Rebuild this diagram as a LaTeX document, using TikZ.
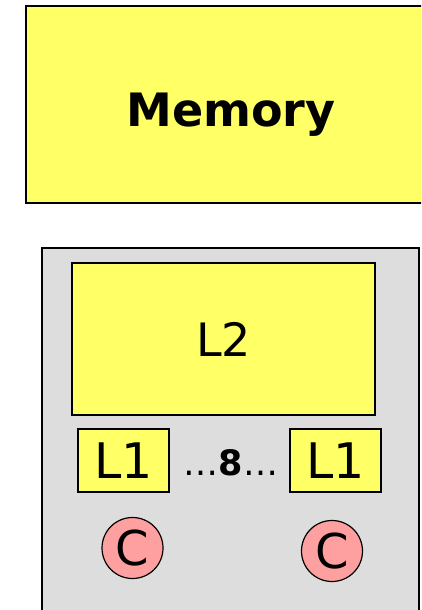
\documentclass[tikz,border=0pt]{standalone}
\usepackage{fontspec}
\setmainfont{DejaVu Sans}
\definecolor{memyellow}{HTML}{FFFF66}
\definecolor{chipgray}{HTML}{DDDDDD}
\definecolor{corepink}{HTML}{FFA0A0}
\begin{document}
\begin{tikzpicture}[x=1pt,y=-1pt,
  box/.style={draw=black,line width=1.2pt,inner sep=0pt},
  cache/.style={box,fill=memyellow},
  core/.style={circle,draw=black,line width=1.2pt,fill=corepink,minimum size=61pt,inner sep=0pt,font=\fontsize{48}{48}\selectfont},
]
\useasboundingbox (0,0) rectangle (421,610);
\begin{scope}
\clip (0,0) rectangle (421,610);
\draw[box,fill=memyellow] (26,6) rectangle (436,203);
\node[font=\bfseries\fontsize{46}{46}\selectfont] (mem) at (231,115) {Memory};
\draw[box,fill=chipgray] (42,248) rectangle (419,620);
\end{scope}
\node[cache,minimum width=303pt,minimum height=152pt,font=\fontsize{46}{46}\selectfont] (l2) at (223.5,339) {L2};
\node[cache,minimum width=91pt,minimum height=63pt,font=\fontsize{49}{49}\selectfont] (l1a) at (123.5,460.5) {L1};
\node[cache,minimum width=91pt,minimum height=63pt,font=\fontsize{49}{49}\selectfont] (l1b) at (335.5,460.5) {L1};
\node[font=\fontsize{35}{35}\selectfont,inner sep=0pt] (dots) at (231,463) {…\textbf{8}…};
\node[core] (c1) at (132.5,548) {C};
\node[core] (c2) at (332,551) {C};
\end{tikzpicture}
\end{document}
